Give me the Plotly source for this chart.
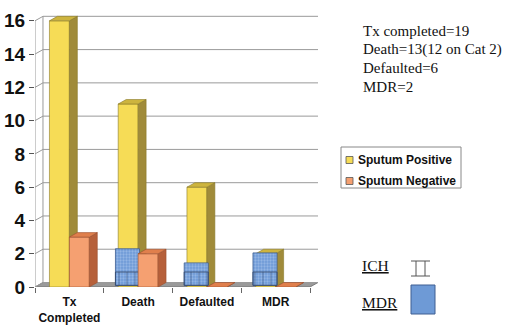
import plotly.graph_objects as go

# ---------------- data ----------------
categories = ["Tx<br>Completed", "Death", "Defaulted", "MDR"]
sputum_positive = [16, 11, 6, 2]
sputum_negative = [3, 2, 0, 0]
mdr_height = [0, 2.3, 1.45, 2.05]
ich_height = [0, 0.9, 0.9, 0.9]
y_ticks = [0, 2, 4, 6, 8, 10, 12, 14, 16]
summary_lines = ["Tx completed=19", "Death=13(12 on Cat 2)", "Defaulted=6", "MDR=2"]
series_names = ["Sputum Positive", "Sputum Negative"]
key_labels = ["ICH", "MDR"]

# ---------------- geometry / style ----------------
W, H = 508, 329
ML, MR, MT, MB = 35, 190, 10, 42
PW, PH = W - ML - MR, H - MT - MB
DX, DY = 0.116, 0.27          # 3-D depth offset (data units)
BAR_W = 0.29
OFFSETS = [-0.29, 0.0]
Y_MAX = 16.65

YEL = dict(front="#F6DC56", side="#A08B3A", top="#CDB43E", edge="#8a7a2a")
ORA = dict(front="#F5A071", side="#B6603A", top="#E07F4C", edge="#9a5030")
BLUE_BG, BLUE_FG, BLUE_EDGE = "#6E9AD6", "#B8D0F2", "#3E5E92"

xs = list(range(len(categories)))


def px(x):
    return (x - ML) / PW


def py(y):
    return (H - MB - y) / PH


def polys(x_left, heights, w, base=0.0):
    fx, fy, sx, sy, tx, ty = [], [], [], [], [], []
    for x0, h in zip(x_left, heights):
        x1 = x0 + w
        top = base + h
        fx += [x0, x1, x1, x0, x0, None]
        fy += [base, base, top, top, base, None]
        sx += [x1, x1 + DX, x1 + DX, x1, x1, None]
        sy += [base, base + DY, top + DY, top, base, None]
        tx += [x0, x0 + DX, x1 + DX, x1, x0, None]
        ty += [top, top + DY, top + DY, top, top, None]
    return (fx, fy), (sx, sy), (tx, ty)


def poly_trace(xy, color, edge, width=0.6, **kw):
    return go.Scatter(x=xy[0], y=xy[1], mode="lines", fill="toself",
                      fillcolor=color, line=dict(color=edge, width=width),
                      hoverinfo="skip", showlegend=False, **kw)


fig = go.Figure()

# floor
x_lo, x_hi = -0.5, len(categories) - 0.5
fig.add_trace(poly_trace(([x_lo, x_hi, x_hi + DX, x_lo + DX, x_lo],
                          [0, 0, DY, DY, 0]), "#9A9A9A", "#6a6a6a", 0.8))

# back wall grid + side wall lines
gx, gy = [], []
for v in y_ticks:
    gx += [x_lo, x_lo + DX, x_hi + DX, None]
    gy += [v, v + DY, v + DY, None]
gx += [x_lo + DX, x_lo + DX, None, x_lo, x_lo]
gy += [DY, y_ticks[-1] + DY, None, 0, y_ticks[-1]]
fig.add_trace(go.Scatter(x=gx, y=gy, mode="lines",
                         line=dict(color="#9a9a9a", width=1),
                         hoverinfo="skip", showlegend=False))

# sputum positive (yellow)
yl = [x + OFFSETS[0] for x in xs]
f, s, t = polys(yl, sputum_positive, BAR_W)
fig.add_trace(poly_trace(f, YEL["front"], YEL["edge"]))
fig.add_trace(poly_trace(s, YEL["side"], YEL["edge"]))
fig.add_trace(poly_trace(t, YEL["top"], YEL["edge"]))

# MDR overlays (blue texture)
bx, by, ix, iy = [], [], [], []
for x0, hm, hi in zip(yl, mdr_height, ich_height):
    if hm <= 0:
        continue
    a, b = x0 - 0.04, x0 + BAR_W + 0.02
    bx += [a, b, b, a, a, None]
    by += [0.1, 0.1, hm, hm, 0.1, None]
    if hi > 0:
        ix += [a, b, b, a, a, None]
        iy += [0.1, 0.1, hi, hi, 0.1, None]
fig.add_trace(go.Scatter(x=bx, y=by, mode="lines", fill="toself",
                         fillcolor=BLUE_BG,
                         fillpattern=dict(shape=".", bgcolor=BLUE_BG, fgcolor=BLUE_FG,
                                          size=3, solidity=0.45),
                         line=dict(color=BLUE_EDGE, width=0.8),
                         hoverinfo="skip", showlegend=False))
fig.add_trace(go.Scatter(x=ix, y=iy, mode="lines", fill="toself",
                         fillcolor="rgba(0,0,0,0)",
                         fillpattern=dict(shape="|", bgcolor="rgba(0,0,0,0)",
                                          fgcolor="#34496e", size=8, solidity=0.12),
                         line=dict(color="#34496e", width=0.9),
                         hoverinfo="skip", showlegend=False))

# sputum negative (orange)
ol = [x + OFFSETS[1] for x in xs]
f, s, t = polys(ol, sputum_negative, BAR_W)
fig.add_trace(poly_trace(f, ORA["front"], ORA["edge"]))
fig.add_trace(poly_trace(s, ORA["side"], ORA["edge"]))
fig.add_trace(poly_trace(t, ORA["top"], ORA["edge"]))

# ---------------- axes ----------------
fig.update_xaxes(range=[x_lo, x_hi + DX], tickvals=xs, ticktext=categories,
                 ticks="", showgrid=False, zeroline=False, showline=False,
                 automargin=False, ticklabelstandoff=6,
                 tickfont=dict(family="Arial, Liberation Sans", size=12, color="#111",
                               weight="bold"),
                 minor=dict(tickvals=[x_lo + i for i in range(len(categories) + 1)],
                            ticks="outside", ticklen=5, tickcolor="#666", showgrid=False),
                 fixedrange=True)
fig.update_yaxes(range=[0, Y_MAX], tickvals=y_ticks, ticks="outside", ticklen=5,
                 tickcolor="#555", showgrid=False, zeroline=False, showline=False,
                 automargin=False,
                 tickfont=dict(family="Arial, Liberation Sans", size=19, color="#111",
                               weight="bold"),
                 fixedrange=True)

# ---------------- annotations ----------------
ann = []
for i, line in enumerate(summary_lines):
    ann.append(dict(x=px(361), y=py(31 + i * 18.5), xref="paper", yref="paper",
                    xanchor="left", yanchor="middle", showarrow=False, text=line,
                    font=dict(family="Liberation Serif, Times New Roman", size=15,
                              color="#111")))

shapes = []
# manual legend box
shapes.append(dict(type="rect", xref="paper", yref="paper",
                   x0=px(341), x1=px(461), y0=py(147), y1=py(188),
                   line=dict(color="#888", width=1), fillcolor="white"))
for i, (name, col) in enumerate(zip(series_names, [YEL["front"], ORA["front"]])):
    yc = 160 + i * 21
    shapes.append(dict(type="rect", xref="paper", yref="paper",
                       x0=px(346), x1=px(353), y0=py(yc - 3.5), y1=py(yc + 3.5),
                       line=dict(color="#555", width=0.8), fillcolor=col))
    ann.append(dict(x=px(356), y=py(yc), xref="paper", yref="paper",
                    xanchor="left", yanchor="middle", showarrow=False,
                    text="<b>%s</b>" % name,
                    font=dict(family="Arial, Liberation Sans", size=12, color="#111")))

# key for ICH / MDR patterns
for i, lab in enumerate(key_labels):
    ann.append(dict(x=px(360), y=py(265 + i * 37), xref="paper", yref="paper",
                    xanchor="left", yanchor="middle", showarrow=False,
                    text="<u>%s</u>" % lab,
                    font=dict(family="Liberation Serif, Times New Roman", size=15.5,
                              color="#111")))
# ICH glyph
for (x0, y0, x1, y1) in [(411, 261, 430, 261), (411, 276, 430, 276),
                         (416, 261, 416, 276), (425, 261, 425, 276)]:
    shapes.append(dict(type="line", xref="paper", yref="paper",
                       x0=px(x0), y0=py(y0), x1=px(x1), y1=py(y1),
                       line=dict(color="#555", width=1)))
# MDR swatch
shapes.append(dict(type="rect", xref="paper", yref="paper",
                   x0=px(411), x1=px(435), y0=py(285), y1=py(314),
                   line=dict(color=BLUE_EDGE, width=1), fillcolor=BLUE_BG))

fig.update_layout(width=W, height=H, margin=dict(l=ML, r=MR, t=MT, b=MB),
                  paper_bgcolor="white", plot_bgcolor="white", showlegend=False,
                  annotations=ann, shapes=shapes)

fig.write_html("out.html", config={"displayModeBar": False},
               post_script="document.body.style.margin='0';"
                           "document.body.style.overflow='hidden';")
